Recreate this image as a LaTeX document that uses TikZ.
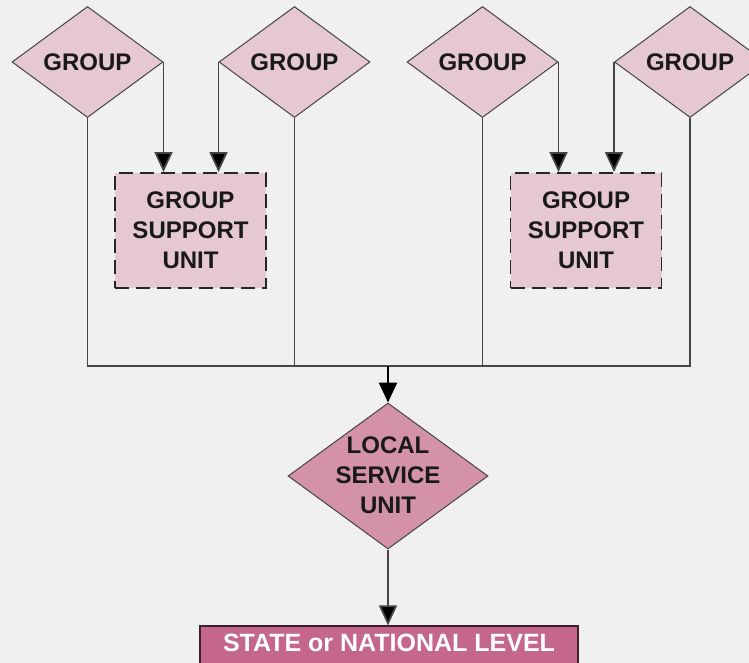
\documentclass[tikz,border=0pt]{standalone}
\usepackage{fontspec}
\setmainfont{Liberation Sans}
\usetikzlibrary{shapes.geometric,arrows.meta}
\definecolor{bg}{HTML}{F0F0F0}
\definecolor{grpfill}{HTML}{E6C8D2}
\definecolor{lsufill}{HTML}{D391AA}
\definecolor{statefill}{HTML}{C4678B}
\definecolor{linegray}{HTML}{454545}
\tikzset{
  grp/.style={shape=diamond, draw=linegray, line width=1pt, fill=grpfill,
    minimum width=151pt, minimum height=111pt, inner sep=0pt},
  gsu/.style={shape=rectangle, draw=black!85, line width=1.8pt, fill=grpfill,
    dash pattern=on 14pt off 7pt, minimum width=151pt, minimum height=115pt, inner sep=0pt},
  lsu/.style={shape=diamond, draw=linegray, line width=1pt, fill=lsufill,
    minimum width=200pt, minimum height=146pt, inner sep=0pt},
  statebox/.style={shape=rectangle, draw=black!70!statefill, line width=1.2pt, fill=statefill,
    minimum width=378pt, minimum height=46pt, inner sep=0pt},
  lbl/.style={font=\fontsize{24}{30}\selectfont\bfseries, text=black!90, align=center},
  conn/.style={draw=linegray, line width=1.7pt},
  arr/.style={draw=linegray, line width=1.7pt, -{Triangle[length=20pt,width=18pt,fill=black]}},
}
\begin{document}
\begin{tikzpicture}[x=1pt,y=-1pt]
\useasboundingbox (0,0) rectangle (749,663);
\fill[bg] (0,0) rectangle (749,663);

% group diamonds
\node[grp, label={[lbl]center:GROUP}] (g1) at (87.5,62) {};
\node[grp, label={[lbl]center:GROUP}] (g2) at (294.5,62) {};
\node[grp, label={[lbl]center:GROUP}] (g3) at (482.5,62) {};
\node[grp, label={[lbl]center:GROUP}] (g4) at (690,62) {};

% group support units
\node[gsu, lbl] (s1) at (190.5,230.5) {GROUP\\SUPPORT\\UNIT};
\node[gsu, lbl] (s2) at (586,230.5) {GROUP\\SUPPORT\\UNIT};

% local service unit
\node[lsu, label={[lbl, yshift=1pt]center:LOCAL\\SERVICE\\UNIT}] (lsu) at (388,476) {};

% state box
\node[statebox, label={[lbl, text=white, yshift=6pt, font=\fontsize{25}{30}\selectfont\bfseries]center:STATE or NATIONAL LEVEL}] (st) at (389,649) {};

% bus
\coordinate (bus) at (388,366);

% arrows into support units
\draw[arr] (g1.east) -- (g1.east |- s1.north);
\draw[arr] (g2.west) -- (g2.west |- s1.north);
\draw[arr] (g3.east) -- (g3.east |- s2.north);
\draw[arr] (g4.west) -- (g4.west |- s2.north);

% bus lines
\draw[conn] (g1.south) -- (g1.south |- bus) -- (g4.south |- bus) -- (g4.south);
\draw[conn] (g2.south) -- (g2.south |- bus);
\draw[conn] (g3.south) -- (g3.south |- bus);

% down arrows
\draw[arr, draw=black, line width=2.6pt] (bus) -- (lsu.north);
\draw[arr] (lsu.south) -- (lsu.south |- st.north);
\end{tikzpicture}
\end{document}
